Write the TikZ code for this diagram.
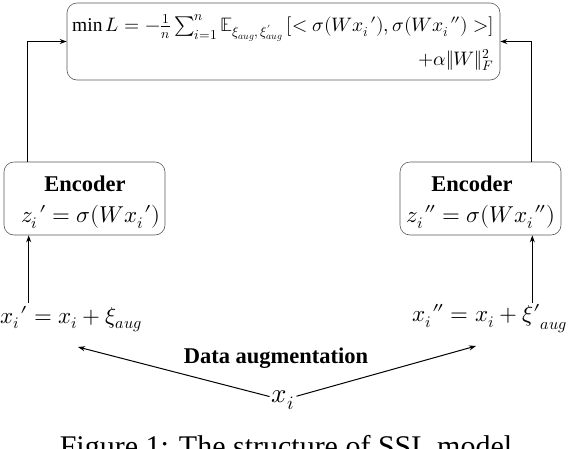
\documentclass[tikz,border=0pt]{standalone}
\usepackage{fontspec}
\usepackage{unicode-math}
\setmainfont{Liberation Serif}
\usetikzlibrary{arrows.meta}
\newcommand{\pr}{\mkern1mu\prime}
\newcommand{\dpr}{\mkern1mu\dprime}
\begin{document}
\begin{tikzpicture}[x=1pt,y=-1pt,
  box/.style={draw=black!65, rounded corners=10pt, line width=0.6pt, inner sep=0pt},
  conn/.style={line width=1.3pt, -{Stealth[length=7pt,width=5pt]}},
  thin conn/.style={line width=1pt, -{Stealth[length=7pt,width=5pt]}},
  boldlbl/.style={inner sep=0pt, font=\fontsize{22.5}{26}\selectfont\bfseries},
  mathlbl/.style={inner sep=0pt, font=\fontsize{23}{27}\selectfont},
  formula/.style={inner sep=0pt, font=\fontsize{19.5}{23}\selectfont}]
\useasboundingbox (0,0) rectangle (570,448);
\clip (0,0) rectangle (570,448);
% boxes
\node[box, minimum width=433pt, minimum height=77pt] (loss) at (283.5,41.5) {};
\node[box, minimum width=161pt, minimum height=73pt] (encL) at (84.5,198.5) {};
\node[box, minimum width=161pt, minimum height=73pt] (encR) at (480.5,198.5) {};
% formula
\node[formula, anchor=west] (f1) at (72,28) {$\min L = -\frac{1}{n}\sum_{i=1}^{n}\mathbb{E}_{\xi_{aug},\,\xi'_{aug}}\,[<\sigma(Wx_i\pr),\sigma(Wx_i\dpr)>]$};
\node[formula, anchor=east] (f2) at (494,60) {$+\alpha\|W\|_F^2$};
% encoder texts
\node[boldlbl] (eL) at (85,184) {Encoder};
\node[mathlbl] (zL) at (91,217) {$z_i\pr = \sigma(Wx_i\pr)$};
\node[boldlbl] (eR) at (472,184) {Encoder};
\node[mathlbl] (zR) at (481,217) {$z_i\dpr = \sigma(Wx_i\dpr)$};
% inputs
\node[mathlbl, anchor=west] (xL) at (0,319) {$x_i\pr = x_i + \xi_{aug}$};
\node[mathlbl, anchor=east] (xR) at (567,319) {$x_i\dpr = x_i + {\xi\prime}_{aug}$};
\node[boldlbl] (da) at (276,358) {Data augmentation};
\node[inner sep=2pt, font=\fontsize{27}{30}\selectfont] (xi) at (283,400) {$x_i$};
% caption
\node[inner sep=0pt, anchor=base, font=\fontsize{30}{34}\selectfont] (cap) at (286,456) {Figure 1: The structure of SSL model};
% connectors
\draw[conn] ([xshift=24pt]encL.north west) |- (loss.west);
\draw[conn] ([xshift=-30pt]encR.north east) |- (loss.east);
\coordinate (aL) at ([xshift=25pt]encL.south west);
\coordinate (aR) at ([xshift=-29pt]encR.south east);
\draw[conn] (aL |- 0,303) -- (aL);
\draw[conn] (aR |- 0,303) -- (aR);
\coordinate (tL) at (78,347);
\coordinate (tR) at (476,346);
\draw[thin conn] (xi) -- (tL);
\draw[thin conn] (xi) -- (tR);
\end{tikzpicture}
\end{document}
